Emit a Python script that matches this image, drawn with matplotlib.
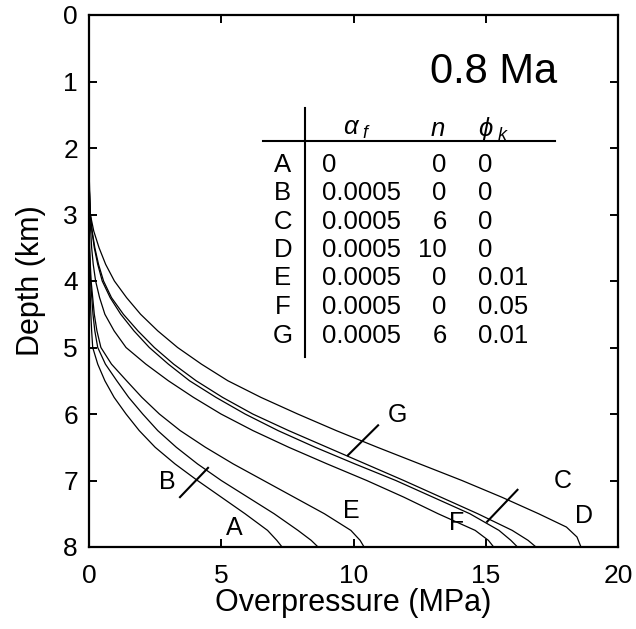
import matplotlib
matplotlib.use("Agg")
import matplotlib.pyplot as plt

plt.rcParams['font.family'] = ['Liberation Sans', 'DejaVu Sans']
plt.rcParams['mathtext.fontset'] = 'custom'
plt.rcParams['mathtext.rm'] = 'Liberation Sans'
plt.rcParams['mathtext.it'] = 'Liberation Sans:italic'

# ---- data: overpressure (MPa) vs depth (km) for each model ----
depth_A = [3.0, 3.5, 4.0, 4.5, 4.75, 5.0, 5.25, 5.5, 5.75, 6.0, 6.25, 6.5, 6.75, 7.0, 7.25, 7.5, 7.75, 7.9, 8.0]
press_A = [0.0, 0.01, 0.03, 0.07, 0.1, 0.14, 0.33, 0.6, 0.95, 1.40, 1.9, 2.5, 3.25, 4.1, 5.0, 5.9, 6.75, 7.1, 7.3]

depth_B = [2.8, 3.5, 4.0, 4.5, 4.75, 5.0, 5.25, 5.5, 5.75, 6.0, 6.25, 6.5, 6.75, 7.0, 7.25, 7.5, 7.75, 7.9, 8.0]
press_B = [0.0, 0.02, 0.06, 0.15, 0.22, 0.33, 0.62, 1.05, 1.5, 2.03, 2.6, 3.3, 4.1, 5.0, 6.0, 7.0, 7.9, 8.4, 8.66]

depth_C = [2.5, 3.0, 3.25, 3.5, 3.75, 4.0, 4.25, 4.5, 4.75, 5.0, 5.25, 5.5, 5.75, 6.0, 6.25, 6.5, 6.75, 7.0,
           7.25, 7.5, 7.75, 7.9, 8.0]
press_C = [0.0, 0.05, 0.11, 0.2, 0.33, 0.5, 0.8, 1.2, 1.7, 2.28, 3.0, 3.8, 4.8, 5.9, 7.15, 8.55, 10.05, 11.6,
           13.0, 14.4, 15.5, 15.95, 16.2]

depth_D = [2.3, 3.0, 3.25, 3.5, 3.75, 4.0, 4.25, 4.5, 4.75, 5.0, 5.25, 5.5, 5.75, 6.0, 6.25, 6.5, 6.75, 7.0,
           7.25, 7.5, 7.7, 7.85, 8.0]
press_D = [0.0, 0.05, 0.18, 0.38, 0.63, 0.96, 1.42, 1.95, 2.6, 3.35, 4.25, 5.25, 6.5, 7.89, 9.35, 10.9, 12.5, 14.1,
           15.6, 17.0, 18.05, 18.45, 18.6]

depth_E = [2.7, 3.5, 4.0, 4.5, 4.75, 5.0, 5.25, 5.5, 5.75, 6.0, 6.25, 6.5, 6.75, 7.0, 7.25, 7.5, 7.75, 7.9, 8.0]
press_E = [0.0, 0.02, 0.08, 0.2, 0.3, 0.45, 0.85, 1.42, 2.0, 2.66, 3.45, 4.4, 5.45, 6.6, 7.75, 8.9, 9.9, 10.25, 10.4]

depth_F = [2.6, 3.0, 3.5, 3.75, 4.0, 4.25, 4.5, 4.75, 5.0, 5.25, 5.5, 5.75, 6.0, 6.25, 6.5, 6.75, 7.0, 7.25,
           7.5, 7.75, 7.9, 8.0]
press_F = [0.0, 0.03, 0.1, 0.16, 0.25, 0.4, 0.6, 0.95, 1.40, 2.15, 3.0, 3.95, 4.99, 6.2, 7.55, 9.0, 10.5, 11.9,
           13.2, 14.6, 15.1, 15.3]

depth_G = [2.5, 3.0, 3.25, 3.5, 3.75, 4.0, 4.25, 4.5, 4.75, 5.0, 5.25, 5.5, 5.75, 6.0, 6.25, 6.5, 6.75, 7.0,
           7.25, 7.5, 7.75, 7.9, 8.0]
press_G = [0.0, 0.05, 0.12, 0.22, 0.36, 0.55, 0.85, 1.3, 1.85, 2.47, 3.2, 4.05, 5.05, 6.19, 7.55, 9.0, 10.45, 11.9,
           13.3, 14.7, 16.0, 16.6, 16.9]

# ---- table contents ----
models = ['A', 'B', 'C', 'D', 'E', 'F', 'G']
alpha_f = ['0', '0.0005', '0.0005', '0.0005', '0.0005', '0.0005', '0.0005']
n_vals = ['0', '0', '6', '10', '0', '0', '6']
phi_k = ['0', '0', '0', '0', '0.01', '0.05', '0.01']

x_ticks = [0, 5, 10, 15, 20]
y_ticks = [0, 1, 2, 3, 4, 5, 6, 7, 8]

fig = plt.figure(figsize=(6.36, 6.29), dpi=100)
ax = fig.add_axes([89 / 636, 1 - 547 / 629, 529 / 636, 532 / 629])

curves = [(press_A, depth_A), (press_B, depth_B), (press_C, depth_C), (press_D, depth_D),
          (press_E, depth_E), (press_F, depth_F), (press_G, depth_G)]
for px, dy in curves:
    ax.plot(px, dy, color='black', lw=0.9, solid_joinstyle='round')

ax.set_xlim(0, 20)
ax.set_ylim(8, 0)
ax.set_xticks(x_ticks)
ax.set_yticks(y_ticks)
ax.tick_params(direction='in', length=6, width=1.4, labelsize=19,
               top=True, right=True, pad=8)
ax.tick_params(axis='x', pad=12)
for s in ax.spines.values():
    s.set_linewidth(1.6)

ax.set_xlabel('Overpressure (MPa)', fontsize=22, labelpad=0)
ax.set_ylabel('Depth (km)', fontsize=22, labelpad=12)

# ---- title ----
ax.text(15.3, 0.85, '0.8 Ma', fontsize=30, ha='center', va='center')

# ---- table ----
fs = 18.5
row_y = [2.26, 2.68, 3.11, 3.53, 3.96, 4.39, 4.83]
ax.plot([6.58, 17.62], [1.895, 1.895], color='black', lw=1.5, clip_on=False)
ax.plot([8.17, 8.17], [1.40, 5.14], color='black', lw=1.5, clip_on=False)
ax.text(9.6, 1.72, r'$\alpha_{\ f}$', fontsize=fs, ha='left', va='center')
ax.text(13.16, 1.72, r'$n$', fontsize=fs, ha='center', va='center')
ax.text(14.71, 1.72, r'$\phi_{\ k}$', fontsize=fs, ha='left', va='center')
for i, m in enumerate(models):
    yy = row_y[i]
    ax.text(7.33, yy, m, fontsize=fs, ha='center', va='center')
    ax.text(8.81, yy, alpha_f[i], fontsize=fs, ha='left', va='center')
    ax.text(13.53, yy, n_vals[i], fontsize=fs, ha='right', va='center')
    ax.text(14.71, yy, phi_k[i], fontsize=fs, ha='left', va='center')

# ---- curve labels ----
lab = 18
ax.text(5.5, 7.72, 'A', fontsize=lab, ha='center', va='center')
ax.text(2.95, 7.02, 'B', fontsize=lab, ha='center', va='center')
ax.plot([3.44, 4.5], [7.25, 6.81], color='black', lw=1.5)
ax.text(9.9, 7.46, 'E', fontsize=lab, ha='center', va='center')
ax.text(13.9, 7.64, 'F', fontsize=lab, ha='center', va='center')
ax.text(17.9, 7.0, 'C', fontsize=lab, ha='center', va='center')
ax.plot([16.2, 15.05], [7.14, 7.62], color='black', lw=1.5)
ax.text(18.7, 7.54, 'D', fontsize=lab, ha='center', va='center')
ax.text(11.65, 6.02, 'G', fontsize=lab, ha='center', va='center')
ax.plot([10.93, 9.79], [6.17, 6.62], color='black', lw=1.5)

fig.savefig('out.png', dpi=100)
